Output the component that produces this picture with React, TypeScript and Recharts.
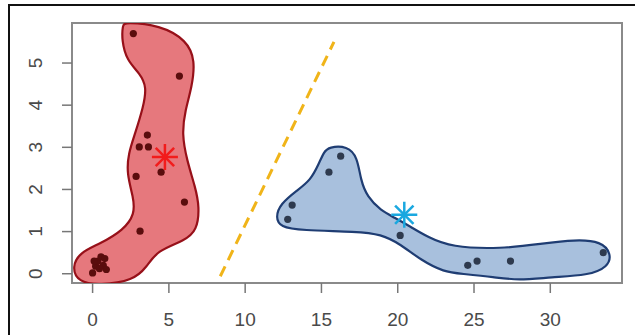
import { ScatterChart, Scatter, XAxis, YAxis, ReferenceLine, ReferenceArea } from 'recharts'

// ── Data ──────────────────────────────────────────────────────────────────────

const xTicks = [0, 5, 10, 15, 20, 25, 30]
const yTicks = [0, 1, 2, 3, 4, 5]

// cluster 1 (red) observations
const redX = [2.67, 5.69, 3.59, 3.06, 3.66, 4.49, 2.85, 6.02, 3.11, 0.0, 0.2, 0.35, 0.55, 0.8, 0.7, 0.9, 0.1, 0.45]
const redY = [5.70, 4.69, 3.29, 3.01, 3.01, 2.41, 2.31, 1.70, 1.01, 0.02, 0.18, 0.3, 0.4, 0.36, 0.2, 0.1, 0.3, 0.12]

// cluster 2 (blue) observations
const blueX = [16.26, 15.49, 13.08, 12.79, 20.16, 24.59, 25.2, 27.39, 33.47]
const blueY = [2.79, 2.41, 1.63, 1.29, 0.91, 0.2, 0.3, 0.3, 0.5]

// cluster centres
const centreX = [4.74, 20.43]
const centreY = [2.77, 1.4]

// hull outlines
const redHullX = [2.12, 4.42, 6.18, 6.73, 6.51, 6.07, 5.85, 6.18, 6.73, 7.01, 6.84, 6.07, 4.21, 3.55, 2.67, 0.48, -0.95, -1.36, -0.83, 0.48, 2.01, 2.78, 2.67, 2.24, 2.34, 2.78, 3.33, 3.55, 3.11, 2.24, 1.91, 1.97]
const redHullY = [5.97, 5.9, 5.54, 5.06, 4.43, 3.88, 3.32, 2.69, 2.06, 1.58, 1.03, 0.79, 0.55, 0.16, -0.16, -0.27, -0.2, 0.16, 0.51, 0.71, 1.03, 1.42, 1.82, 2.37, 2.85, 3.32, 3.96, 4.43, 4.75, 5.06, 5.54, 5.9]

const blueHullX = [15.49, 16.7, 17.36, 17.57, 18.01, 18.89, 19.76, 20.86, 21.96, 23.49, 26.78, 29.41, 31.6, 33.35, 34.01, 33.79, 32.48, 30.07, 27.88, 26.34, 24.15, 23.05, 21.52, 20.2, 18.89, 17.36, 13.63, 12.31, 11.99, 12.31, 13.41, 14.29, 14.83, 15.16]
const blueHullY = [3.01, 3.03, 2.77, 2.22, 1.82, 1.5, 1.34, 1.11, 0.87, 0.63, 0.59, 0.71, 0.81, 0.77, 0.47, 0.16, -0.04, -0.08, -0.16, -0.08, 0.0, 0.04, 0.32, 0.7, 0.94, 1.0, 1.03, 1.11, 1.34, 1.66, 1.98, 2.22, 2.61, 2.89]

// separating line
const boundaryX = [8.37, 15.82]
const boundaryY = [-0.06, 5.5]

const xDomain = [-1.35, 34.7]
const yDomain = [-0.22, 5.95]

const zip = (xs: number[], ys: number[]) => xs.map((x, i) => ({ x, y: ys[i] }))

// ── Shapes ────────────────────────────────────────────────────────────────────

const dot = (color: string) => (p: any) => <circle cx={p.cx} cy={p.cy} r={3.6} fill={color} />

const star = (color: string) => (p: any) => {
  const r = 13
  const d = r * Math.SQRT1_2
  return (
    <g stroke={color} strokeWidth={2.5}>
      <line x1={p.cx - r} y1={p.cy} x2={p.cx + r} y2={p.cy} />
      <line x1={p.cx} y1={p.cy - r} x2={p.cx} y2={p.cy + r} />
      <line x1={p.cx - d} y1={p.cy - d} x2={p.cx + d} y2={p.cy + d} />
      <line x1={p.cx - d} y1={p.cy + d} x2={p.cx + d} y2={p.cy - d} />
    </g>
  )
}

const nothing = () => <g />

const XTick = ({ x, y, payload }: any) => (
  <text x={x} y={y + 31} textAnchor="middle" fontSize={19} fill="#4a4a4a" fontFamily="Liberation Sans, Arial, sans-serif">
    {payload.value}
  </text>
)

const YTick = ({ y, payload }: any) => (
  <text
    transform={`translate(35,${y}) rotate(-90)`}
    textAnchor="middle"
    dominantBaseline="central"
    fontSize={19}
    fill="#4a4a4a"
    fontFamily="Liberation Sans, Arial, sans-serif"
  >
    {payload.value}
  </text>
)

// ── Component ─────────────────────────────────────────────────────────────────

export default function App() {
  return (
    <div style={{ position: 'fixed', left: 0, top: 0, width: 635, height: 335, overflow: 'hidden', background: '#fff' }}>
      <div style={{ position: 'absolute', left: 8, top: 4, width: 700, height: 400, borderTop: '2px solid #111', borderLeft: '2px solid #111' }} />
      <div style={{ position: 'absolute', left: 0, top: 0 }}>
        <ScatterChart width={635} height={335} margin={{ top: 23, right: 13, left: 0, bottom: 0 }}>
          <XAxis
            type="number"
            dataKey="x"
            domain={xDomain}
            ticks={xTicks}
            allowDataOverflow
            axisLine={false}
            tickSize={10}
            tickLine={{ stroke: '#777', strokeWidth: 1.5 }}
            tick={<XTick />}
            height={52}
          />
          <YAxis
            type="number"
            dataKey="y"
            domain={yDomain}
            ticks={yTicks}
            allowDataOverflow
            axisLine={false}
            tickSize={10}
            tickLine={{ stroke: '#777', strokeWidth: 1.5 }}
            tick={<YTick />}
            width={72}
          />
          <ReferenceArea x1={xDomain[0]} x2={xDomain[1]} y1={yDomain[0]} y2={yDomain[1]} fill="none" stroke="#8a8a8a" strokeWidth={2} ifOverflow="visible" />
          <Scatter
            data={zip(redHullX, redHullY)}
            line={{ fill: '#e6787d', stroke: '#971019', strokeWidth: 2.2 }}
            lineType="joint"
            lineJointType="basisClosed"
            shape={nothing}
            isAnimationActive={false}
          />
          <Scatter
            data={zip(blueHullX, blueHullY)}
            line={{ fill: '#a8c0dd', stroke: '#1f3d73', strokeWidth: 2.2 }}
            lineType="joint"
            lineJointType="basisClosed"
            shape={nothing}
            isAnimationActive={false}
          />
          <ReferenceLine
            segment={[{ x: boundaryX[0], y: boundaryY[0] }, { x: boundaryX[1], y: boundaryY[1] }]}
            stroke="#f0b419"
            strokeWidth={3}
            strokeDasharray="11 7"
          />
          <Scatter data={zip(redX, redY)} shape={dot('#5a0d0d')} isAnimationActive={false} />
          <Scatter data={zip(blueX, blueY)} shape={dot('#2e3a4e')} isAnimationActive={false} />
          <Scatter data={[{ x: centreX[0], y: centreY[0] }]} shape={star('#f21c1c')} isAnimationActive={false} />
          <Scatter data={[{ x: centreX[1], y: centreY[1] }]} shape={star('#1aa8e0')} isAnimationActive={false} />
        </ScatterChart>
      </div>
    </div>
  )
}
